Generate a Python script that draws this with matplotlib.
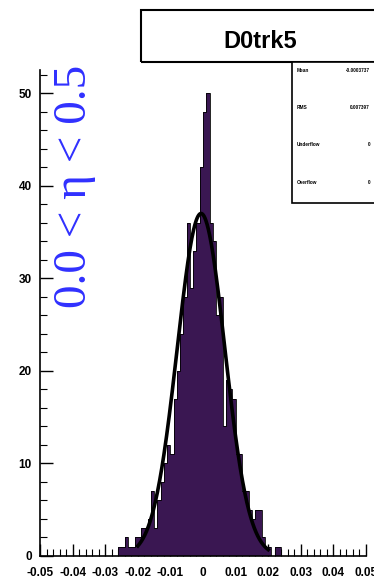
import numpy as np
import matplotlib
matplotlib.use("Agg")
import matplotlib.pyplot as plt
from matplotlib.patches import Rectangle

# histogram D0trk5: 0.001 wide bins, left edges from -0.030 to 0.029
bin_start = -0.030
bin_width = 0.001
counts = [0, 0, 0, 0, 1, 1, 2, 1, 1, 2,
          2, 3, 3, 4, 7, 3, 6, 8, 10, 12,
          11, 17, 20, 24, 28, 36, 29, 33, 36, 42,
          48, 50, 36, 34, 26, 28, 14, 19, 18, 17,
          11, 11, 7, 7, 5, 4, 5, 5, 2, 1,
          1, 0, 1, 1, 0, 0, 0, 0, 0, 0]

# gaussian fit
fit_const = 37.0
fit_mean = -0.0006
fit_sigma = 0.0073
fit_range = (-0.020, 0.020)

title = "D0trk5"
stats_labels = ["Mean", "RMS", "Underflow", "Overflow"]
stats_values = ["-0.0003737", "0.007397", "0", "0"]
eta_label = "0.0 < η < 0.5"

x_ticks = [-0.05, -0.04, -0.03, -0.02, -0.01, 0, 0.01, 0.02, 0.03, 0.04, 0.05]
x_tick_labels = ["-0.05", "-0.04", "-0.03", "-0.02", "-0.01", "0",
                 "0.01", "0.02", "0.03", "0.04", "0.05"]
y_ticks = [0, 10, 20, 30, 40, 50]

plt.rcParams['font.family'] = ['Liberation Sans', 'DejaVu Sans']

fig = plt.figure(figsize=(3.74, 5.78), dpi=100)
ax = fig.add_axes([40 / 374, 1 - 556 / 578, 326 / 374, 486 / 578])

edges = bin_start + bin_width * np.arange(len(counts) + 1)
ax.stairs(counts, edges, fill=True, color="#3a1752", zorder=2)
ax.stairs(counts, edges, color="black", lw=0.6, zorder=3)

xs = np.linspace(fit_range[0], fit_range[1], 300)
ys = fit_const * np.exp(-0.5 * ((xs - fit_mean) / fit_sigma) ** 2)
ax.plot(xs, ys, color="black", lw=2.6, zorder=4)

ax.set_xlim(-0.05, 0.05)
ax.set_ylim(0, 52.5)
ax.set_xticks(x_ticks)
ax.set_xticklabels(x_tick_labels)
ax.set_yticks(y_ticks)
ax.set_xticks(np.arange(-0.05, 0.0501, 0.002), minor=True)
ax.set_yticks(np.arange(0, 52.1, 2), minor=True)
ax.tick_params(direction="in", length=9, width=1, labelsize=8.5)
ax.tick_params(axis="x", pad=8)
ax.tick_params(axis="y", pad=6)
ax.tick_params(which="minor", direction="in", length=5, width=0.8)
for lab in ax.get_xticklabels() + ax.get_yticklabels():
    lab.set_fontweight("bold")
ax.spines["top"].set_visible(False)
ax.spines["right"].set_visible(False)
ax.spines["left"].set_linewidth(1.2)
ax.spines["bottom"].set_linewidth(1.2)
ax.patch.set_alpha(0)

# title box
fig.patches.append(Rectangle((141 / 374, 1 - 62 / 578), 240 / 374, 52 / 578,
                             transform=fig.transFigure, fill=False,
                             ec="black", lw=1.5))
fig.text(260 / 374, 1 - 42 / 578, title, ha="center", va="center",
         fontsize=17, fontweight="bold")

# stats box
fig.patches.append(Rectangle((292 / 374, 1 - 203 / 578), 90 / 374, 141 / 578,
                             transform=fig.transFigure, fill=True, fc="white",
                             ec="black", lw=1.2))
for k, (lab, val) in enumerate(zip(stats_labels, stats_values)):
    yy = 1 - (70 + 37.5 * k) / 578
    fig.text(297 / 374, yy, lab, ha="left", va="center", fontsize=3.4,
             fontweight="bold")
    fig.text(370 / 374, yy, val, ha="right", va="center", fontsize=3.4,
             fontweight="bold")

fig.text(75 / 374, 1 - 186 / 578, eta_label, rotation=90, ha="center",
         va="center", color="#3030ff", fontsize=34,
         family=["Liberation Serif", "DejaVu Serif"])

fig.savefig("out.png", dpi=100)
